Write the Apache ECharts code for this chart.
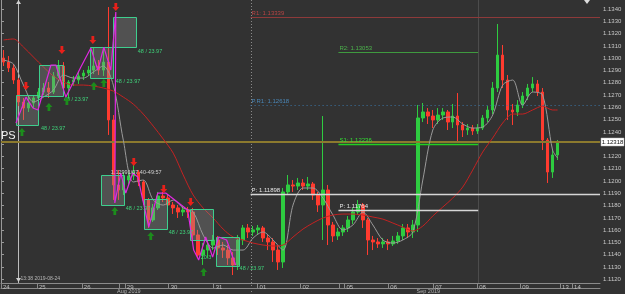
<!DOCTYPE html>
<html><head><meta charset="utf-8">
<script src="https://cdn.jsdelivr.net/npm/echarts@6/dist/echarts.min.js"></script>
<style>html,body{margin:0;padding:0;background:#323232;}#c{width:625px;height:294px;}</style>
</head><body><div id="c"></div>
<script>
// ---------- DATA ----------
const slotCount = 120;               // 3-hour slots on the time axis
// candles: [open, close, low, high]
const candles = [
[1.13001,1.12968,1.12936,1.13066],[1.12968,1.12920,1.12887,1.13017],[1.12920,1.12822,1.12790,1.12952],[1.12822,1.12643,1.12610,1.12838],
[1.12643,1.12594,1.12497,1.12676],[1.12594,1.12635,1.12562,1.12684],[1.12635,1.12676,1.12594,1.12700],[1.12676,1.12724,1.12659,1.12757],
[1.12724,1.12757,1.12700,1.12798],[1.12757,1.12724,1.12676,1.12806],[1.12724,1.12855,1.12708,1.12887],[1.12855,1.12936,1.12838,1.12985],
[1.12936,1.12757,1.12724,1.12968],[1.12757,1.12806,1.12676,1.12822],[1.12806,1.12822,1.12773,1.12855],[1.12822,1.12855,1.12790,1.12887],
[1.12855,1.12879,1.12822,1.12903],[1.12879,1.12903,1.12855,1.12936],[1.12903,1.12936,1.12871,1.13082],[1.12936,1.12903,1.12863,1.12985],
[1.12903,1.12968,1.12855,1.13082],[1.12968,1.12497,1.12375,1.13416],[1.12497,1.11968,1.11846,1.12537],[1.11968,1.11927,1.11846,1.12090],
[1.11927,1.12008,1.11886,1.12073],[1.12008,1.12041,1.11959,1.12090],[1.12041,1.12073,1.12008,1.12138],[1.12073,1.11992,1.11959,1.12090],
[1.11992,1.11846,1.11805,1.12008],[1.11846,1.11683,1.11618,1.11862],[1.11683,1.11781,1.11667,1.11813],[1.11781,1.11878,1.11764,1.11911],
[1.11878,1.11862,1.11829,1.11911],[1.11862,1.11805,1.11764,1.11886],[1.11805,1.11781,1.11732,1.11829],[1.11781,1.11748,1.11699,1.11805],
[1.11748,1.11764,1.11715,1.11797],[1.11764,1.11748,1.11699,1.11789],[1.11748,1.11561,1.11520,1.11781],[1.11561,1.11398,1.11374,1.11602],
[1.11398,1.11438,1.11317,1.11496],[1.11438,1.11479,1.11374,1.11520],[1.11479,1.11520,1.11438,1.11561],[1.11520,1.11455,1.11398,1.11553],
[1.11455,1.11438,1.11374,1.11504],[1.11438,1.11374,1.11317,1.11479],[1.11374,1.11317,1.11235,1.11422],[1.11317,1.11520,1.11276,1.11561],
[1.11520,1.11618,1.11479,1.11642],[1.11618,1.11585,1.11536,1.11650],[1.11585,1.11602,1.11553,1.11634],[1.11602,1.11618,1.11569,1.11642],
[1.11618,1.11536,1.11504,1.11634],[1.11536,1.11504,1.11438,1.11561],[1.11504,1.11438,1.11341,1.11536],[1.11438,1.11341,1.11276,1.11479],
[1.11341,1.11911,1.11292,1.11943],[1.11911,1.11968,1.11886,1.12049],[1.11968,1.11959,1.11911,1.12008],[1.11959,1.11984,1.11927,1.12025],
[1.11984,1.11959,1.11927,1.12016],[1.11959,1.11976,1.11927,1.12033],[1.11976,1.11886,1.11846,1.11992],[1.11886,1.11805,1.11748,1.11911],
[1.11805,1.11927,1.11520,1.12529],[1.11927,1.11642,1.11479,1.11968],[1.11642,1.11553,1.11504,1.11667],[1.11553,1.11585,1.11520,1.11618],
[1.11585,1.11618,1.11553,1.11642],[1.11618,1.11683,1.11585,1.11715],[1.11683,1.11748,1.11650,1.11781],[1.11748,1.11805,1.11724,1.11846],
[1.11805,1.11683,1.11618,1.11821],[1.11683,1.11520,1.11398,1.11699],[1.11520,1.11504,1.11438,1.11553],[1.11504,1.11488,1.11455,1.11536],
[1.11488,1.11504,1.11455,1.11536],[1.11504,1.11488,1.11438,1.11528],[1.11488,1.11512,1.11471,1.11553],[1.11512,1.11553,1.11488,1.11585],
[1.11553,1.11618,1.11520,1.11650],[1.11618,1.11585,1.11536,1.11650],[1.11585,1.11642,1.11536,1.11683],[1.11642,1.12513,1.11585,1.12619],
[1.12513,1.12562,1.12480,1.12635],[1.12562,1.12529,1.12464,1.12594],[1.12529,1.12497,1.12431,1.12578],[1.12497,1.12537,1.12464,1.12594],
[1.12537,1.12562,1.12497,1.12594],[1.12562,1.12480,1.12415,1.12578],[1.12480,1.12529,1.12431,1.12627],[1.12529,1.12456,1.12318,1.12716],
[1.12456,1.12415,1.12358,1.12480],[1.12415,1.12431,1.12375,1.12464],[1.12431,1.12407,1.12375,1.12456],[1.12407,1.12431,1.12383,1.12464],
[1.12431,1.12513,1.12415,1.12537],[1.12513,1.12578,1.12480,1.12610],[1.12578,1.12757,1.12545,1.12806],[1.12757,1.13025,1.12724,1.13278],
[1.13025,1.12822,1.12757,1.13107],[1.12822,1.12578,1.12497,1.12863],[1.12578,1.12562,1.12456,1.12627],[1.12562,1.12619,1.12529,1.12659],
[1.12619,1.12692,1.12594,1.12724],[1.12692,1.12757,1.12659,1.12790],[1.12757,1.12790,1.12724,1.12846],[1.12790,1.12724,1.12692,1.12822],
[1.12724,1.12334,1.12252,1.12757],[1.12334,1.12073,1.11984,1.12350],[1.12073,1.12212,1.12025,1.12252],[1.12212,1.12318,1.12171,1.12334]
];
// fast MA (grey) : [slot, value]
const fastMA = [[0,1.12985],[2,1.12952],[4,1.12781],[6,1.12643],[8,1.12683],[10,1.12740],[12,1.12863],[14,1.12838],[16,1.12838],[18,1.12887],
[20,1.12936],[22,1.12781],[24,1.12333],[26,1.11992],[28,1.12008],[30,1.11845],[32,1.11804],[34,1.11845],[36,1.11780],[38,1.11747],
[40,1.11560],[42,1.11454],[44,1.11479],[46,1.11438],[48,1.11438],[50,1.11536],[52,1.11585],[54,1.11520],[56,1.11438],[58,1.11804],
[60,1.11943],[62,1.11943],[64,1.11861],[66,1.11723],[68,1.11601],[70,1.11642],[72,1.11747],[74,1.11642],[76,1.11520],[78,1.11495],
[80,1.11520],[82,1.11585],[84,1.12008],[86,1.12415],[88,1.12512],[90,1.12521],[92,1.12464],[94,1.12431],[96,1.12439],[98,1.12537],
[100,1.12781],[102,1.12822],[104,1.12618],[106,1.12724],[108,1.12700],[110,1.12252],[111,1.12187]];
// slow MA (red) : [slot, value]
const slowMA = [[0,1.13148],[2,1.13156],[4,1.13090],[6,1.13009],[8,1.12928],[10,1.12854],[12,1.12806],[14,1.12781],[16,1.12781],[18,1.12773],
[20,1.12757],[22,1.12732],[24,1.12683],[26,1.12626],[28,1.12545],[30,1.12447],[32,1.12342],[34,1.12227],[36,1.12049],[38,1.11886],
[40,1.11780],[42,1.11699],[44,1.11609],[46,1.11544],[48,1.11520],[50,1.11495],[52,1.11479],[54,1.11471],[56,1.11479],[58,1.11544],
[60,1.11609],[62,1.11658],[64,1.11699],[66,1.11723],[68,1.11731],[70,1.11731],[72,1.11723],[74,1.11707],[76,1.11690],[78,1.11658],
[80,1.11625],[82,1.11593],[84,1.11633],[86,1.11715],[88,1.11788],[90,1.11861],[92,1.11951],[94,1.12089],[96,1.12236],[98,1.12350],
[100,1.12472],[102,1.12545],[104,1.12545],[106,1.12578],[108,1.12610],[110,1.12578],[111,1.12578]];
// zigzag swing points : [time, price]
const zigzag = [[3.0,1.12472],[5.0,1.12683],[6.4,1.12594],[7.4,1.12578],[10,1.12944],[11,1.12944],[13,1.12683],[16,1.12928],[18,1.13082],
[19.4,1.12903],[20.6,1.13090],[22,1.12903],[23,1.13375],[22.8,1.11821],[24,1.12065],[25,1.11902],[26.4,1.12065],[27.4,1.12033],
[29.6,1.11625],[31.4,1.11902],[33,1.11902],[37.4,1.11764],[38.6,1.11438],[39.6,1.11357],[41,1.11544],[42.4,1.11381],[43.6,1.11544],
[45.2,1.11520],[47,1.11317]];
// zones
const boxStart = [3.0, 7.6, 17.8, 22.4, 20.0, 28.6, 37.8, 43.0];
const boxEnd   = [7.4, 12.4, 22.4, 27.0, 24.6, 33.2, 42.4, 47.6];
const boxTop   = [1.12700, 1.12944, 1.13090, 1.13335, 1.12049, 1.11853, 1.11772, 1.11544];
const boxBottom= [1.12456, 1.12692, 1.12838, 1.13090, 1.11805, 1.11609, 1.11520, 1.11308];
const boxLabelX = [8, 12.6, 23, 27.4, 25, 33.6, 40, 47.8];
const boxLabelY = [1.12431, 1.12667, 1.12814, 1.13058, 1.11780, 1.11585, 1.11374, 1.11284];
const boxLabelText = ['48 / 23.97','48 / 23.97','48 / 23.97','48 / 23.97','48 / 23.97','48 / 23.97','20.3','48 / 23.97'];
// signal arrows : [time, price]
const sellArrows = [[5,1.12773],[12.2,1.13066],[18.4,1.13148],[23,1.13416],[26.6,1.12155],[32.6,1.11935],[38,1.11829]];
const buyArrows  = [[4.2,1.12399],[9.6,1.12602],[13.2,1.12651],[18.6,1.12773],[20.6,1.12798],[22.8,1.11756],[30,1.11552],[40.6,1.11259]];
// pivots
const pivotText  = ['R1: 1.13339','R2: 1.13053','P.R1: 1.12618','S1: 1.12236','P: 1.11898','P: 1.11764'];
const pivotValue = [1.13339, 1.13053, 1.12618, 1.12298, 1.11898, 1.11764];
const pivotFrom  = [50, 67.6, 50, 67.6, 50, 67.6];
const pivotTo    = [120, 95.6, 120, 95.6, 120, 95.6];
const currentPrice = 1.12318;
const currentPriceText = '1.12318';
const infoText = '1.12991/07.40-49:57';
const infoPos = [22, 1.12073];
const markerTime = 3.4;
const markerText = '13:38 2019-08-24';
const sessionLines = [50, 95.6];
// axes
const priceTicks = [1.112,1.113,1.114,1.115,1.116,1.117,1.118,1.119,1.120,1.121,1.122,1.123,1.124,1.125,1.126,1.127,1.128,1.129,1.130,1.131,1.132,1.133,1.134];
const dayTickPos = [0, 7.2, 16.2, 24.8, 33.6, 42.6, 51.4, 60, 68.8, 77.6, 86.6, 95.4, 104, 112, 114.4];
const dayLabels  = ['24','25','26','29','30','31','01','02','05','06','07','08','09','13','14'];
const sepTicks   = [23.6, 67.8];
const monthPos   = [25.6, 85.6];
const monthLabels= ['Aug 2019','Sep 2019'];
const yMin = 1.111699, yMax = 1.134733;

// ---------- CHART ----------
const FONT = '"Liberation Sans", Arial, sans-serif';
const cats = []; for (let i = 0; i < slotCount; i++) cats.push(String(i));
const nearest = (arr, v) => { let b = 0; arr.forEach((a, i) => { if (Math.abs(a - v) < Math.abs(arr[b] - v)) b = i; }); return b; };
const pivotStyle = [
  {line:'#8e3a3a', text:'#b84444', w:1, dash:null},
  {line:'#3f9a3f', text:'#4cb34c', w:1, dash:null},
  {line:'#3a76a8', text:'#4a86b6', w:1, dash:[1,3]},
  {line:'#22d022', text:'#33e033', w:1.5, dash:null},
  {line:'#d6d6d6', text:'#e4e4e4', w:1.5, dash:null},
  {line:'#d6d6d6', text:'#e4e4e4', w:1.5, dash:null}
];
const chart = echarts.init(document.getElementById('c'), null, {renderer:'canvas'});
chart.setOption({
  backgroundColor:'#323232',
  animation:false,
  grid:{left:0, right:25, top:0, bottom:11},
  xAxis:[
    {type:'category', data:cats, boundaryGap:true, show:false},
    {type:'value', min:0, max:slotCount, position:'bottom',
     axisLine:{show:true, lineStyle:{color:'#8a8a8a', width:1}},
     axisTick:{show:true, length:6, customValues: dayTickPos.concat(sepTicks), lineStyle:{color:'#8a8a8a'}},
     axisLabel:{show:true, customValues: dayTickPos, formatter: v => dayLabels[nearest(dayTickPos, v)],
       align:'left', padding:[0,0,0,2], margin:1, fontSize:6, color:'#c0c0c0', fontFamily:FONT},
     splitLine:{show:false}},
    {type:'value', min:0, max:slotCount, position:'bottom', offset:5,
     axisLine:{show:true, lineStyle:{color:'#8a8a8a', width:1}},
     axisTick:{show:false},
     axisLabel:{show:true, customValues: monthPos, formatter: v => monthLabels[nearest(monthPos, v)],
       margin:0, fontSize:5.5, color:'#b0b0b0', fontFamily:FONT},
     splitLine:{show:false}}
  ],
  yAxis:[{type:'value', position:'right', min:yMin, max:yMax,
    axisLine:{show:true, lineStyle:{color:'#9a9a9a'}},
    axisTick:{show:true, length:3, customValues:priceTicks, lineStyle:{color:'#9a9a9a'}},
    axisLabel:{show:true, customValues:priceTicks, formatter: v => v.toFixed(4), margin:3, fontSize:6, color:'#c8c8c8', fontFamily:FONT},
    splitLine:{show:false}}],
  series:[
    // session separators + time marker
    {type:'custom', xAxisIndex:1, yAxisIndex:0, z:1, silent:true, data:[[0]],
     renderItem:(p, api) => {
       const cs = p.coordSys; const ch = [];
       sessionLines.forEach((t, i) => {
         const x = Math.round(api.coord([t, yMax])[0]) + 0.5;
         ch.push({type:'line', shape:{x1:x, y1:cs.y, x2:x, y2:cs.y + cs.height + (i === 0 ? 11 : 0)},
           style:{stroke: i === 0 ? '#8a8a8a' : '#4c4c4c', lineWidth:1, lineDash: i === 0 ? [1,2] : null}});
       });
       const mx = Math.round(api.coord([markerTime, yMax])[0]) + 0.5;
       ch.push({type:'line', shape:{x1:mx, y1:cs.y, x2:mx, y2:cs.y + cs.height}, style:{stroke:'#bdbdbd', lineWidth:1}});
       ch.push({type:'polygon', shape:{points:[[mx-2.5,cs.y+4],[mx+2.5,cs.y+4],[mx,cs.y]]}, style:{fill:'#cfcfcf'}});
       ch.push({type:'polygon', shape:{points:[[mx-2.5,cs.y+cs.height-5],[mx+2.5,cs.y+cs.height-5],[mx,cs.y+cs.height-1]]}, style:{fill:'#cfcfcf'}});
       ch.push({type:'text', x:mx+2, y:cs.y+cs.height-4, style:{text:markerText, fill:'#b8b8b8', font:'5px ' + FONT, align:'left', verticalAlign:'middle'}});
       ch.push({type:'polygon', shape:{points:[[cs.x+cs.width-16,cs.y],[cs.x+cs.width-10,cs.y],[cs.x+cs.width-13,cs.y+4]]}, style:{fill:'#dddddd'}});
       return {type:'group', children:ch};
     }},
    {type:'candlestick', xAxisIndex:0, yAxisIndex:0, z:2, data:candles, barWidth:3,
     itemStyle:{color:'#2ecc40', color0:'#ff3b2f', borderColor:'#2ecc40', borderColor0:'#ff3b2f', borderWidth:1}},
    // current price line + axis tag
    {type:'custom', xAxisIndex:1, yAxisIndex:0, z:3, silent:true, clip:false, data:[[0, currentPrice]],
     renderItem:(p, api) => {
       const cs = p.coordSys;
       const y = Math.round(api.coord([0, api.value(1)])[1]);
       return {type:'group', children:[
         {type:'line', shape:{x1:cs.x, y1:y, x2:cs.x + cs.width, y2:y}, style:{stroke:'#8c7a2e', lineWidth:2}},
         {type:'rect', shape:{x:cs.x + cs.width + 1, y:y - 4, width:23, height:8}, style:{fill:'#ffffff', stroke:'#bbbbbb', lineWidth:0.5}},
         {type:'text', x:cs.x + cs.width + 12.5, y:y, style:{text:currentPriceText, fill:'#111', font:'6px ' + FONT, align:'center', verticalAlign:'middle'}}
       ]};
     }},
    {type:'line', xAxisIndex:1, yAxisIndex:0, z:3, symbol:'none', smooth:0.3, silent:true,
     data: fastMA.map(d => [d[0] + 0.5, d[1]]), lineStyle:{color:'#9a9a9a', width:1}},
    {type:'line', xAxisIndex:1, yAxisIndex:0, z:3, symbol:'none', smooth:0.3, silent:true,
     data: slowMA.map(d => [d[0] + 0.5, d[1]]), lineStyle:{color:'#c42222', width:1}},
    {type:'line', xAxisIndex:1, yAxisIndex:0, z:4, symbol:'none', silent:true,
     data: zigzag, lineStyle:{color:'#e028e0', width:1.2}},
    // zones
    {type:'custom', xAxisIndex:1, yAxisIndex:0, z:4, silent:true,
     data: boxStart.map((s, i) => [s, boxEnd[i], boxTop[i], boxBottom[i]]),
     renderItem:(p, api) => {
       const a = api.coord([api.value(0), api.value(2)]);
       const b = api.coord([api.value(1), api.value(3)]);
       return {type:'rect', shape:{x:Math.round(a[0])+0.5, y:Math.round(a[1])+0.5, width:Math.round(b[0]-a[0]), height:Math.round(b[1]-a[1])},
         style:{fill:'rgba(150,150,150,0.32)', stroke:'#3ecf8e', lineWidth:1}};
     }},
    // zone labels
    {type:'custom', xAxisIndex:1, yAxisIndex:0, z:6, silent:true,
     data: boxLabelX.map((x, i) => [x, boxLabelY[i], i]),
     renderItem:(p, api) => {
       const a = api.coord([api.value(0), api.value(1)]);
       return {type:'text', x:a[0], y:a[1], style:{text:boxLabelText[api.value(2)], fill:'#3fd27a', font:'5.5px ' + FONT, align:'left', verticalAlign:'middle'}};
     }},
    // info label
    {type:'custom', xAxisIndex:1, yAxisIndex:0, z:6, silent:true, data:[infoPos],
     renderItem:(p, api) => {
       const a = api.coord([api.value(0), api.value(1)]);
       return {type:'text', x:a[0], y:a[1], style:{text:infoText, fill:'#d0d0d0', font:'5.5px ' + FONT, align:'left', verticalAlign:'middle'}};
     }},
    // arrows
    {type:'scatter', xAxisIndex:1, yAxisIndex:0, z:7, silent:true, data:sellArrows,
     symbol:'path://M3,0L7,0L7,5L10,5L5,10L0,5L3,5Z', symbolSize:[7,8], itemStyle:{color:'#e8201a', opacity:1}},
    {type:'scatter', xAxisIndex:1, yAxisIndex:0, z:7, silent:true, data:buyArrows,
     symbol:'path://M5,0L10,5L7,5L7,10L3,10L3,5L0,5Z', symbolSize:[7,8], itemStyle:{color:'#1c8c1c', opacity:1}},
    // pivots
    {type:'custom', xAxisIndex:1, yAxisIndex:0, z:5, silent:true,
     data: pivotValue.map((v, i) => [pivotFrom[i], pivotTo[i], v, i]),
     renderItem:(p, api) => {
       const i = api.value(3); const st = pivotStyle[i];
       const a = api.coord([api.value(0), api.value(2)]);
       const b = api.coord([api.value(1), api.value(2)]);
       const y = Math.round(a[1]) + 0.5;
       return {type:'group', children:[
         {type:'line', shape:{x1:a[0], y1:y, x2:b[0], y2:y}, style:{stroke:st.line, lineWidth:st.w, lineDash:st.dash}},
         {type:'text', x:a[0]+1, y:y-1, style:{text:pivotText[i], fill:st.text, font:'6px ' + FONT, align:'left', verticalAlign:'bottom'}}
       ]};
     }},
    // "PS" text at left edge
    {type:'custom', xAxisIndex:1, yAxisIndex:0, z:7, silent:true, data:[[0, 1.12366]],
     renderItem:(p, api) => {
       const a = api.coord([api.value(0), api.value(1)]);
       return {type:'text', x:a[0], y:a[1], style:{text:'PS', fill:'#f0f0f0', font:'11px ' + FONT, align:'left', verticalAlign:'middle'}};
     }}
  ]
});
</script></body></html>
